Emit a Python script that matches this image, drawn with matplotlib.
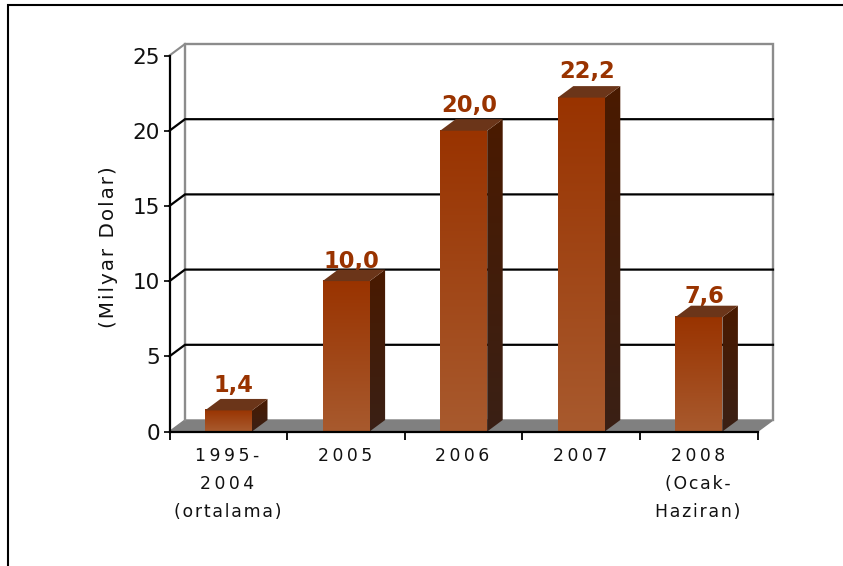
import numpy as np
import matplotlib
matplotlib.use('Agg')
import matplotlib.pyplot as plt
from matplotlib.colors import LinearSegmentedColormap
from matplotlib.patches import Polygon

# Data
categories = ['1995-\n2004\n(ortalama)', '2005', '2006', '2007', '2008\n(Ocak-\nHaziran)']
values = [1.4, 10.0, 20.0, 22.2, 7.6]
value_labels = ['1,4', '10,0', '20,0', '22,2', '7,6']
y_ticks = [0, 5, 10, 15, 20, 25]

# gap between bar top and value label, px
label_lift = [7, 2, 7, 8, 3]

W, H = 843, 566
fig = plt.figure(figsize=(W / 100, H / 100), dpi=100)
plt.rcParams['font.family'] = ['DejaVu Sans']

# axes = front plane of the fake 3D box
x0, x1, y0, y1 = 169.5, 757.5, 431.5, 55.5
ax = fig.add_axes([x0 / W, 1 - y0 / H, (x1 - x0) / W, (y0 - y1) / H])
n = len(categories)
ax.set_xlim(0, n)
ax.set_ylim(0, 25)
ax.patch.set_visible(False)

# depth of the box, in data units
px_x = (x1 - x0) / n
px_y = (y0 - y1) / 25
dx = 15.5 / px_x
dy = 11.5 / px_y

# back wall, floor
ax.add_patch(Polygon([(0, 0), (n, 0), (n + dx, dy), (dx, dy)], closed=True,
                     fc='#808080', ec='#808080', lw=1, clip_on=False, zorder=1))
ax.plot([dx, dx, n + dx, n + dx], [dy, 25 + dy, 25 + dy, dy], color='#8c8c8c', lw=1.7,
        clip_on=False, zorder=1, solid_joinstyle='miter')
ax.plot([0, dx], [25, 25 + dy], color='#8c8c8c', lw=1.5, clip_on=False, zorder=1)

# gridlines on the wall, with the diagonal on the side wall
for t in y_ticks[1:-1]:
    ax.plot([0, dx, n + dx], [t, t + dy, t + dy], color='black', lw=1.6,
            clip_on=False, zorder=2, solid_joinstyle='miter')

# bars
front_cmap = LinearSegmentedColormap.from_list('front', ['#993300', '#A85A2E'])
side_cmap = LinearSegmentedColormap.from_list('side', ['#4A1A00', '#3A2015'])
grad = np.linspace(0, 1, 256).reshape(-1, 1)
bar_w = 47 / px_x
bar_off = 35.5 / px_x

for i, v in enumerate(values):
    left = i + bar_off
    right = left + bar_w
    # front face
    ax.imshow(grad, cmap=front_cmap, extent=[left, right, 0, v], aspect='auto',
              zorder=4, clip_on=False)
    # side face
    side = Polygon([(right, 0), (right + dx, dy), (right + dx, v + dy), (right, v)], closed=True,
                   fc='none', ec='none', transform=ax.transData)
    ax.add_patch(side)
    im = ax.imshow(grad, cmap=side_cmap, extent=[right, right + dx, 0, v + dy], aspect='auto',
                   zorder=4, clip_on=True)
    im.set_clip_path(side)
    # top face
    ax.add_patch(Polygon([(left, v), (right, v), (right + dx, v + dy), (left + dx, v + dy)], closed=True,
                         fc='#6B3519', ec='none', zorder=4, clip_on=False))
    ax.text(left + bar_w / 2 + dx * 0.35, v + dy + label_lift[i] / px_y, value_labels[i], color='#993300',
            fontsize=16.3, fontweight='bold', ha='center', va='baseline', zorder=3)

ax.set_xlim(0, n)
ax.set_ylim(0, 25)

# axes lines and ticks
for s in ['top', 'right']:
    ax.spines[s].set_visible(False)
for s in ['left', 'bottom']:
    ax.spines[s].set_linewidth(1.6)
    ax.spines[s].set_zorder(5)
ax.set_yticks(y_ticks)
ax.tick_params(axis='y', length=4, width=1.3, labelsize=15.5, pad=3, colors='#111111')
ax.set_xticks(range(n + 1))
ax.set_xticklabels([])
ax.tick_params(axis='x', length=6, width=1.3)


# letter spacing of the original, done with thin and hair spaces
def spaced(line):
    sep = '\u2009' if line[0].isdigit() else '\u200a'
    return sep.join(line)


for i, c in enumerate(categories):
    label = '\n'.join(spaced(line) for line in c.split('\n'))
    ax.annotate(label, (i + 0.5, 0), xytext=(-0.7, -11.5), textcoords='offset points',
                ha='center', va='top', fontsize=12.4, linespacing=1.7, color='#111111')

ax.set_ylabel('\u200a'.join('(Milyar Dolar)'), fontsize=14.3, labelpad=10.5, color='#111111', y=0.49)

# outer frame, open at right and bottom
fig.add_artist(plt.Line2D([8 / W, 8 / W, 1], [0, 1 - 4.5 / H, 1 - 4.5 / H], color='black', lw=1.5,
                          solid_joinstyle='miter'))

fig.savefig('out.png', dpi=100)
